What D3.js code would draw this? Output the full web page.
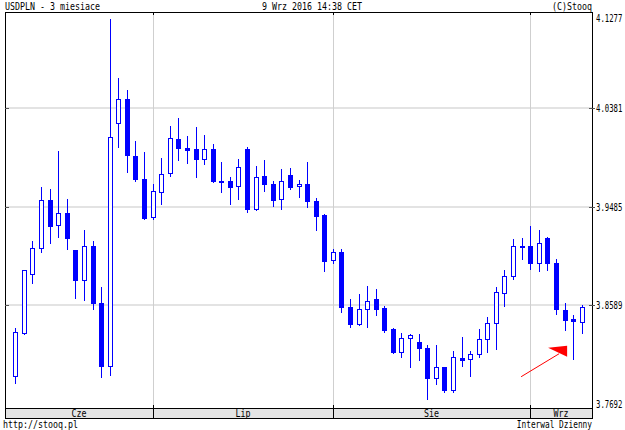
<!DOCTYPE html>
<html>
<head>
<meta charset="utf-8">
<script src="https://cdn.jsdelivr.net/npm/d3@7"></script>
<style>
  body { margin: 0; background: #fff; }
  svg { display: block; }
  text { font-family: 'DejaVu Sans Mono', monospace; font-size: 10px; fill: #000; }
</style>
</head>
<body>
<main></main>
<script>
// trading days, MM-DD (2016)
const dates = [
  '06-09', '06-10', '06-13', '06-14', '06-15', '06-16', '06-17', '06-20', '06-21', '06-22',
  '06-23', '06-24', '06-27', '06-28', '06-29', '06-30',
  '07-01', '07-04', '07-05', '07-06', '07-07', '07-08', '07-11', '07-12', '07-13', '07-14',
  '07-15', '07-18', '07-19', '07-20', '07-21', '07-22', '07-25', '07-26', '07-27', '07-28', '07-29',
  '08-01', '08-02', '08-03', '08-04', '08-05', '08-08', '08-09', '08-10', '08-11', '08-12',
  '08-15', '08-16', '08-17', '08-18', '08-19', '08-22', '08-23', '08-24', '08-25', '08-26',
  '08-29', '08-30', '08-31',
  '09-01', '09-02', '09-05', '09-06', '09-07', '09-08', '09-09',
];

const open = [
  3.7944, 3.8335, 3.8872, 3.9109, 3.9546, 3.9318, 3.9430, 3.9091, 3.8818, 3.9127,
  3.8608, 3.8035, 4.0252, 4.0465, 3.9952, 3.9740,
  3.9396, 3.9619, 3.9791, 4.0104, 4.0019, 4.0010, 3.9919, 4.0015, 3.9724, 3.9719,
  3.9673, 4.0015, 3.9469, 3.9767, 3.9694, 3.9555, 3.9779, 3.9673, 3.9694, 3.9539, 3.9412,
  3.9002, 3.9071, 3.8572, 3.8420, 3.8554, 3.8650, 3.8566, 3.8375, 3.8163, 3.8295,
  3.8254, 3.8202, 3.7931, 3.8029, 3.7819, 3.8108, 3.8099, 3.8144, 3.8284, 3.8426,
  3.8699, 3.8854, 3.9127,
  3.9130, 3.8972, 3.9200, 3.8975, 3.8550, 3.8466, 3.8441,
];
const high = [
  3.8381, 3.8909, 3.9178, 3.9667, 3.9649, 3.9994, 3.9555, 3.9095, 3.9273, 3.9178,
  3.8754, 4.1193, 4.0659, 4.0549, 4.0088, 3.9983,
  3.9697, 3.9931, 4.0222, 4.0295, 4.0131, 4.0215, 4.0137, 4.0055, 3.9894, 3.9758,
  3.9924, 4.0031, 3.9858, 3.9910, 3.9724, 3.9828, 3.9840, 3.9730, 3.9894, 3.9567, 3.9421,
  3.9098, 3.9098, 3.8648, 3.8693, 3.8766, 3.8739, 3.8584, 3.8380, 3.8338, 3.8329,
  3.8326, 3.8226, 3.8226, 3.8032, 3.8172, 3.8302, 3.8177, 3.8375, 3.8486, 3.8754,
  3.8914, 3.9191, 3.9205,
  3.9315, 3.9273, 3.9212, 3.9012, 3.8611, 3.8505, 3.8590,
];
const low = [
  3.7880, 3.8329, 3.8796, 3.9073, 3.9160, 3.9214, 3.9103, 3.8654, 3.8636, 3.8554,
  3.7935, 3.7953, 4.0033, 3.9801, 3.9719, 3.9376,
  3.9373, 3.9515, 3.9770, 3.9912, 3.9888, 3.9755, 3.9879, 3.9710, 3.9624, 3.9515,
  3.9558, 3.9437, 3.9457, 3.9628, 3.9497, 3.9467, 3.9649, 3.9573, 3.9482, 3.9273, 3.8902,
  3.8972, 3.8532, 3.8395, 3.8411, 3.8395, 3.8505, 3.8347, 3.8153, 3.8120, 3.8026,
  3.8090, 3.7735, 3.7874, 3.7801, 3.7799, 3.8035, 3.7944, 3.8117, 3.8163, 3.8190,
  3.8584, 3.8827, 3.9009,
  3.8923, 3.8900, 3.8911, 3.8514, 3.8368, 3.8104, 3.8341,
];
const close = [
  3.8344, 3.8909, 3.9109, 3.9546, 3.9315, 3.9430, 3.9205, 3.8818, 3.9127, 3.8608,
  3.8035, 4.0119, 4.0465, 3.9958, 3.9740, 3.9387,
  3.9630, 3.9788, 4.0110, 4.0019, 4.0006, 3.9922, 4.0010, 3.9719, 3.9715, 3.9669,
  3.9846, 3.9464, 3.9758, 3.9694, 3.9546, 3.9719, 3.9664, 3.9694, 3.9537, 3.9406, 3.8989,
  3.9073, 3.8572, 3.8420, 3.8557, 3.8627, 3.8559, 3.8368, 3.8163, 3.8293, 3.8323,
  3.8199, 3.7929, 3.8029, 3.7819, 3.8117, 3.8095, 3.8147, 3.8286, 3.8426, 3.8711,
  3.8854, 3.9133, 3.9133,
  3.8975, 3.9154, 3.8975, 3.8554, 3.8459, 3.8445, 3.8572,
];

const monthNames = { '06': 'Cze', '07': 'Lip', '08': 'Sie', '09': 'Wrz' };
const yTicks = [4.1277, 4.0381, 3.9485, 3.8589, 3.7692];

const dims = {
  width: 625,
  height: 430,
  left: 5,
  right: 592,
  top: 12,
  bottom: 408,
  band: 418,
};

const candles = dates.map((d, i) => ({
  date: d,
  open: open[i],
  high: high[i],
  low: low[i],
  close: close[i],
}));

const svg = d3
  .select('main')
  .append('svg')
  .attr('width', dims.width)
  .attr('height', dims.height);

const xScale = d3
  .scalePoint()
  .domain(dates)
  .range([dims.left, dims.right])
  .padding(1.2);

const yScale = d3
  .scaleLinear()
  .domain([yTicks[yTicks.length - 1], yTicks[0]])
  .range([404, 10]);

const px = v => Math.round(v);

// month boundaries: first trading day of each month
const months = d3.groups(dates, d => d.slice(0, 2)).map(([m, ds]) => ({
  name: monthNames[m],
  first: ds[0],
}));
const bounds = months.map((m, i) => (i === 0 ? dims.left : px(xScale(m.first))));
bounds.push(dims.right);

const grid = svg.append('g').attr('shape-rendering', 'crispEdges');

// horizontal grid
grid
  .selectAll('line.h')
  .data(yTicks.slice(1, -1))
  .join('line')
  .attr('x1', dims.left)
  .attr('x2', dims.right)
  .attr('y1', d => px(yScale(d)))
  .attr('y2', d => px(yScale(d)))
  .attr('stroke', '#e3e3e3')
  .attr('stroke-width', 2);

// vertical grid at month starts
grid
  .selectAll('line.v')
  .data(bounds.slice(1, -1))
  .join('line')
  .attr('x1', d => d + 0.5)
  .attr('x2', d => d + 0.5)
  .attr('y1', dims.top)
  .attr('y2', dims.bottom)
  .attr('stroke', '#cfcfcf');

// candles
const candleGroup = svg.append('g').attr('shape-rendering', 'crispEdges');

candleGroup
  .selectAll('line')
  .data(candles)
  .join('line')
  .attr('x1', d => px(xScale(d.date)) + 0.5)
  .attr('x2', d => px(xScale(d.date)) + 0.5)
  .attr('y1', d => px(yScale(d.high)))
  .attr('y2', d => px(yScale(d.low)) + 1)
  .attr('stroke', '#0000ff');

candleGroup
  .selectAll('rect')
  .data(candles)
  .join('rect')
  .each(function (d) {
    const cx = px(xScale(d.date));
    const y0 = px(yScale(Math.max(d.open, d.close)));
    const y1 = px(yScale(Math.min(d.open, d.close)));
    const sel = d3.select(this);
    if (d.close >= d.open) {
      sel
        .attr('x', cx - 2 + 0.5)
        .attr('y', y0 + 0.5)
        .attr('width', 4)
        .attr('height', Math.max(1, y1 - y0))
        .attr('fill', '#fff')
        .attr('stroke', '#0000ff');
    } else {
      sel
        .attr('x', cx - 2)
        .attr('y', y0)
        .attr('width', 5)
        .attr('height', Math.max(2, y1 - y0 + 1))
        .attr('fill', '#0000ff');
    }
  });

// red arrow pointing at the last-but-one candle
const target = candles[65];
const tipX = xScale(target.date) - 6;
const tipY = yScale(target.low) - 9;
const arrow = svg.append('g');
arrow
  .append('line')
  .attr('x1', tipX - 46)
  .attr('y1', tipY + 27)
  .attr('x2', tipX - 8)
  .attr('y2', tipY + 4)
  .attr('stroke', '#ff0000')
  .attr('stroke-width', 1);
arrow
  .append('path')
  .attr('d', `M${tipX - 19},${tipY - 2} L${tipX},${tipY - 4} L${tipX},${tipY + 7} Z`)
  .attr('fill', '#ff0000');

// frame, axis band
const frame = svg.append('g').attr('shape-rendering', 'crispEdges');

frame
  .append('rect')
  .attr('x', dims.left + 0.5)
  .attr('y', dims.bottom + 0.5)
  .attr('width', dims.right - dims.left)
  .attr('height', dims.band - dims.bottom)
  .attr('fill', '#e4e4e4');

frame
  .append('rect')
  .attr('x', dims.left + 0.5)
  .attr('y', dims.top + 0.5)
  .attr('width', dims.right - dims.left)
  .attr('height', dims.band - dims.top)
  .attr('fill', 'none')
  .attr('stroke', '#000');

frame
  .append('line')
  .attr('x1', dims.left)
  .attr('x2', dims.right)
  .attr('y1', dims.bottom + 0.5)
  .attr('y2', dims.bottom + 0.5)
  .attr('stroke', '#000');

// month tick marks, top and bottom
bounds.slice(1, -1).forEach(b => {
  frame
    .append('line')
    .attr('x1', b + 0.5)
    .attr('x2', b + 0.5)
    .attr('y1', dims.top)
    .attr('y2', dims.top + 3)
    .attr('stroke', '#000');
  frame
    .append('line')
    .attr('x1', b + 0.5)
    .attr('x2', b + 0.5)
    .attr('y1', dims.bottom - 3)
    .attr('y2', dims.band)
    .attr('stroke', '#000');
});

// value ticks on both sides
yTicks.slice(1, -1).forEach(v => {
  const y = px(yScale(v)) + 0.5;
  frame
    .append('line')
    .attr('x1', dims.left)
    .attr('x2', dims.left + 4)
    .attr('y1', y)
    .attr('y2', y)
    .attr('stroke', '#555');
  frame
    .append('line')
    .attr('x1', dims.right - 3)
    .attr('x2', dims.right + 3)
    .attr('y1', y)
    .attr('y2', y)
    .attr('stroke', '#555');
});

// text
const label = (str, x, y, anchor = 'start', w = 5) =>
  svg
    .append('text')
    .attr('x', x)
    .attr('y', y)
    .attr('text-anchor', anchor)
    .attr('textLength', str.length * w)
    .attr('lengthAdjust', 'spacingAndGlyphs')
    .text(str);

label('USDPLN - 3 miesiace', 5, 10);
label('9 Wrz 2016 14:38 CET', 312, 10, 'middle');
label('(C)Stooq', 592, 10, 'end');
label('http://stooq.pl', 3, 428);
label('Interwal Dzienny', 592, 428, 'end', 4.7);

// value labels: narrowed with a horizontal scale so they fit the right edge
yTicks.forEach(v => {
  const y = Math.max(22, px(yScale(v)) + 4);
  svg
    .append('text')
    .attr('transform', `translate(596 ${y}) scale(0.73 1)`)
    .text(v.toFixed(4));
});

months.forEach((m, i) => {
  label(m.name, (bounds[i] + bounds[i + 1]) / 2, dims.band - 1.5, 'middle');
});
</script>
</body>
</html>
